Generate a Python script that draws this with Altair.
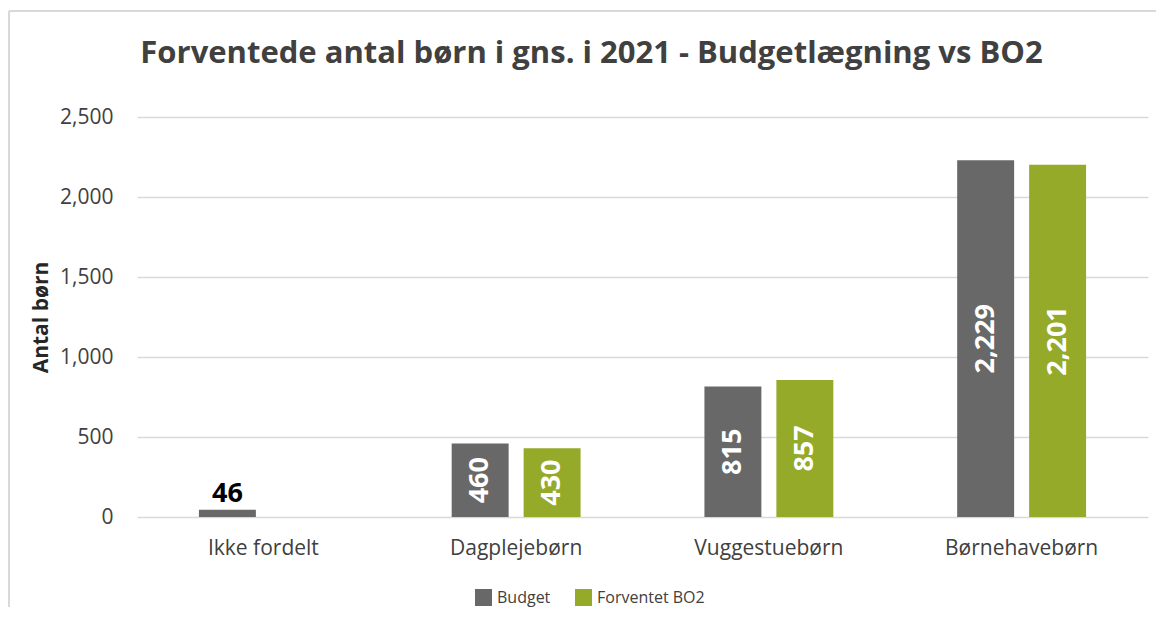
import altair as alt
import pandas as pd

categories = ["Ikke fordelt", "Dagplejebørn", "Vuggestuebørn", "Børnehavebørn"]
series = ["Budget", "Forventet BO2"]
budget = [46, 460, 815, 2229]
bo2 = [None, 430, 857, 2201]
colors = ["#686868", "#95AA28"]
FONT = "Open Sans"

rows = []
for c, b, f in zip(categories, budget, bo2):
    rows.append({"cat": c, "serie": "Budget", "value": b})
    if f is not None:
        rows.append({"cat": c, "serie": "Forventet BO2", "value": f})
df = pd.DataFrame(rows)

x = alt.X("cat:N", sort=categories, title=None,
          scale=alt.Scale(paddingInner=0.49, paddingOuter=0.245),
          axis=alt.Axis(labelAngle=0, labelFontSize=21, labelColor="#404040",
                        labelFont=FONT, labelPadding=20, ticks=False, domain=False))
xo = alt.XOffset("serie:N", sort=series, scale=alt.Scale(paddingInner=0.2083))
y = alt.Y("value:Q", title="Antal børn",
          scale=alt.Scale(domain=[0, 2500], nice=False),
          axis=alt.Axis(values=[0, 500, 1000, 1500, 2000, 2500], format=",.0f",
                        labelFontSize=21, labelColor="#404040", labelFont=FONT,
                        labelPadding=24, ticks=False, domain=False,
                        gridColor="#d9d9d9", gridWidth=1.5,
                        titleFont=FONT, titleFontSize=21, titleFontWeight="bold",
                        titleColor="#262626", titlePadding=8))

base = alt.Chart(df)

bars = base.mark_bar().encode(
    x=x, xOffset=xo, y=y,
    color=alt.Color("serie:N", sort=series,
                    scale=alt.Scale(domain=series, range=colors),
                    legend=alt.Legend(title=None, orient="none", legendX=338, legendY=472,
                                      direction="horizontal", symbolType="square",
                                      symbolSize=289, symbolStrokeWidth=0,
                                      labelFontSize=16, labelFont=FONT,
                                      labelColor="#404040", columnPadding=24,
                                      labelOffset=5)),
)

inside = base.transform_filter("datum.value >= 200").transform_calculate(
    mid="datum.value / 2"
).mark_text(angle=270, align="center", baseline="middle", color="white",
            fontSize=27, fontWeight="bold", font=FONT).encode(
    x=alt.X("cat:N", sort=categories), xOffset=alt.XOffset("serie:N", sort=series),
    y=alt.Y("mid:Q"), text=alt.Text("value:Q", format=","),
)

above = base.transform_filter("datum.value < 200").mark_text(
    align="center", baseline="bottom", dy=-2, color="black",
    fontSize=27, fontWeight="bold", font=FONT).encode(
    x=alt.X("cat:N", sort=categories), xOffset=alt.XOffset("serie:N", sort=series),
    y=alt.Y("value:Q"), text=alt.Text("value:Q", format=","),
)

frame_df = pd.DataFrame({"k": [0]})
left_line = alt.Chart(frame_df).mark_rule(color="#d9d9d9", strokeWidth=2).encode(
    x=alt.value(-128), y=alt.value(-106), y2=alt.value(520))
top_line = alt.Chart(frame_df).mark_rule(color="#d9d9d9", strokeWidth=2).encode(
    x=alt.value(-128), x2=alt.value(1040), y=alt.value(-106))

chart = alt.layer(bars, inside, above, left_line, top_line).properties(
    width=1011, height=400,
    title=alt.TitleParams("Forventede antal børn i gns. i 2021 - Budgetlægning vs BO2",
                          font=FONT, fontSize=31, fontWeight="bold", color="#404040",
                          anchor="middle", dx=-51, offset=-60),
    autosize=alt.AutoSizeParams(type="none"),
    padding={"left": 129, "top": 109, "right": 8, "bottom": 90},
).configure_view(stroke=None)

chart.save("out.html", embed_options={"renderer": "svg", "actions": False})
